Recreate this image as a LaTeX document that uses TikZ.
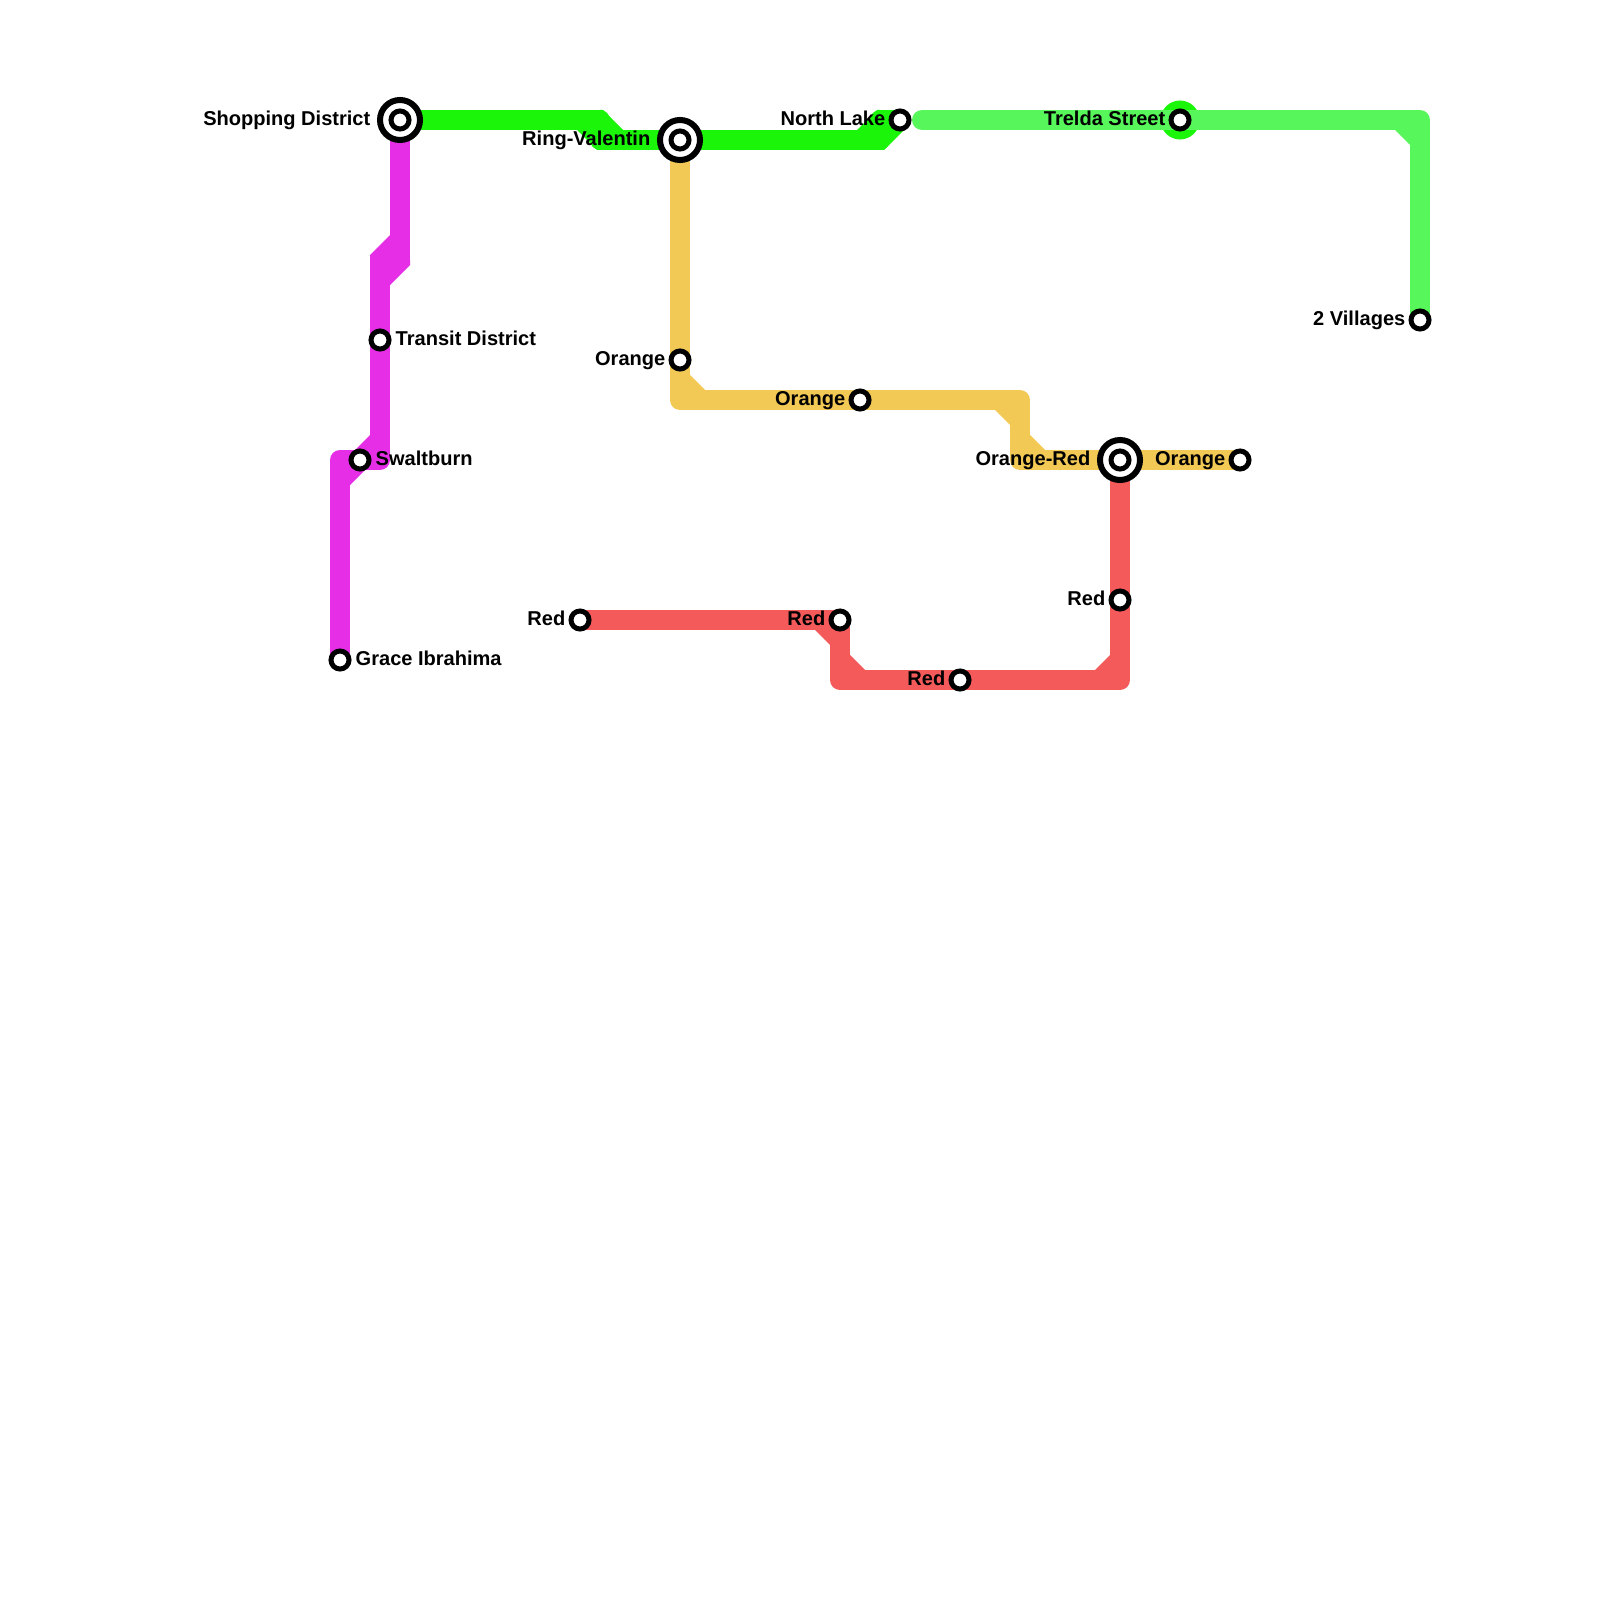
\documentclass[tikz,border=0pt]{standalone}
\usepackage{fontspec}
\setmainfont{Liberation Sans}
\usetikzlibrary{positioning}
\definecolor{lineGreen}{HTML}{1AF50A}
\definecolor{lineLime}{HTML}{57F75B}
\definecolor{lineMagenta}{HTML}{E62EE6}
\definecolor{lineOrange}{HTML}{F2C955}
\definecolor{lineRed}{HTML}{F55A5A}
\tikzset{
  x=0.01cm, y=-0.01cm,
  routeLine/.style={line width=0.2cm, line join=round, line cap=butt},
  stopDot/.style={circle, draw=black, fill=white, line width=0.05cm, minimum size=0.18cm, inner sep=0pt},
  hubRing/.style={circle, draw=black, fill=white, line width=0.06cm, minimum size=0.40cm, inner sep=0pt},
  stopText/.style={font=\bfseries\fontsize{5.7pt}{7pt}\selectfont, text=black, inner sep=0pt,
                   text height=1.45mm, text depth=0.35mm},
}
\begin{document}
\begin{tikzpicture}
  \useasboundingbox (0,0) rectangle (1600,1600);
  % stops
  \coordinate (shopping) at (400,120);
  \coordinate (ring) at (680,140);
  \coordinate (northLake) at (900,120);
  \coordinate (limeStart) at (922,120);
  \coordinate (trelda) at (1180,120);
  \coordinate (villages) at (1420,320);
  \coordinate (transit) at (380,340);
  \coordinate (swalt) at (360,460);
  \coordinate (grace) at (340,660);
  \coordinate (orangeA) at (680,360);
  \coordinate (orangeB) at (860,400);
  \coordinate (orangeRed) at (1120,460);
  \coordinate (orangeC) at (1240,460);
  \coordinate (redA) at (580,620);
  \coordinate (redB) at (840,620);
  \coordinate (redC) at (960,680);
  \coordinate (redD) at (1120,600);
  % lines
  \fill[lineGreen] (trelda) circle (0.195cm);
  \draw[routeLine, lineOrange] (ring) -- (680,400) -- (1020,400) -- (1020,460) -- (orangeC);
  \fill[lineOrange] (690,375) -- (690,390) -- (705,390) -- cycle;
  \fill[lineOrange] (995,410) -- (1010,410) -- (1010,425) -- cycle;
  \fill[lineOrange] (1030,435) -- (1030,450) -- (1045,450) -- cycle;
  \draw[routeLine, lineRed] (redA) -- (840,620) -- (840,680) -- (1120,680) -- (orangeRed);
  \fill[lineRed] (815,630) -- (830,630) -- (830,645) -- cycle;
  \fill[lineRed] (850,655) -- (850,670) -- (865,670) -- cycle;
  \fill[lineRed] (1110,655) -- (1110,670) -- (1095,670) -- cycle;
  \draw[routeLine, lineGreen] (shopping) -- (600,120) -- (600,140) -- (880,140) -- (880,120) -- (northLake);
  \fill[lineGreen] (577,130) -- (597,150) -- (600,150) -- (600,130) -- cycle;
  \fill[lineGreen] (603,110) -- (623,130) -- (600,130) -- (600,110) -- cycle;
  \fill[lineGreen] (857,130) -- (877,110) -- (880,110) -- (880,130) -- cycle;
  \fill[lineGreen] (884,150) -- (904,130) -- (880,130) -- (880,150) -- cycle;
  \draw[routeLine, lineLime, line cap=round] (limeStart) -- (1420,120) -- (villages);
  \fill[lineLime] (1395,130) -- (1410,130) -- (1410,145) -- cycle;
  \draw[routeLine, lineMagenta] (shopping) -- (400,260) -- (380,260) -- (380,460) -- (340,460) -- (grace);
  \fill[lineMagenta] (390,235) -- (370,255) -- (370,260) -- (390,260) -- cycle;
  \fill[lineMagenta] (410,265) -- (390,285) -- (390,260) -- (410,260) -- cycle;
  \fill[lineMagenta] (370,435) -- (370,450) -- (355,450) -- cycle;
  \fill[lineMagenta] (350,470) -- (365,470) -- (350,485) -- cycle;
  % markers
  \node[hubRing] (shoppingHub) at (shopping) {};
  \node[hubRing] (ringHub) at (ring) {};
  \node[hubRing] (orangeRedHub) at (orangeRed) {};
  \foreach \p in {shopping,ring,northLake,trelda,villages,transit,swalt,grace,orangeA,orangeB,orangeRed,orangeC,redA,redB,redC,redD}
    \node[stopDot] (dot-\p) at (\p) {};
  % labels
  \node[stopText, left=0.29cm of shopping] (lblShopping) {Shopping District};
  \node[stopText, left=0.29cm of ring] (lblRing) {Ring-Valentin};
  \node[stopText, left=0.14cm of northLake] (lblLake) {North Lake};
  \node[stopText, left=0.14cm of trelda] (lblTrelda) {Trelda Street};
  \node[stopText, left=0.14cm of villages] (lblVillages) {2 Villages};
  \node[stopText, right=0.15cm of transit] (lblTransit) {Transit District};
  \node[stopText, right=0.15cm of swalt] (lblSwalt) {Swaltburn};
  \node[stopText, right=0.15cm of grace] (lblGrace) {Grace Ibrahima};
  \node[stopText, left=0.14cm of orangeA] (lblOrangeA) {Orange};
  \node[stopText, left=0.14cm of orangeB] (lblOrangeB) {Orange};
  \node[stopText, left=0.29cm of orangeRed] (lblOrangeRed) {Orange-Red};
  \node[stopText, left=0.14cm of orangeC] (lblOrangeC) {Orange};
  \node[stopText, left=0.14cm of redA] (lblRedA) {Red};
  \node[stopText, left=0.14cm of redB] (lblRedB) {Red};
  \node[stopText, left=0.14cm of redC] (lblRedC) {Red};
  \node[stopText, left=0.14cm of redD] (lblRedD) {Red};
\end{tikzpicture}
\end{document}
